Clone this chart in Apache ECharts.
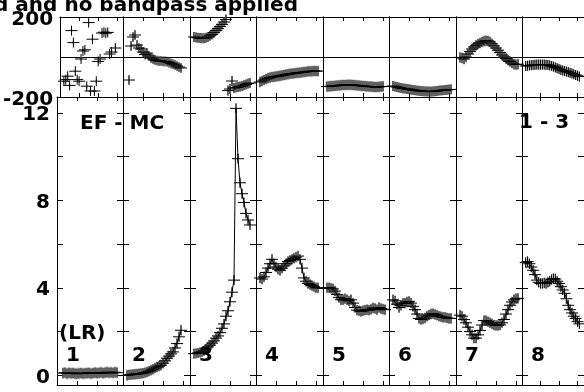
<!DOCTYPE html>
<html>
<head>
<meta charset="utf-8">
<title>EF - MC cross-power spectrum</title>
<script src="https://cdn.jsdelivr.net/npm/echarts@6/dist/echarts.min.js"></script>
<style>
html,body{margin:0;padding:0;background:#fff;}
#main{width:584px;height:392px;}
</style>
</head>
<body>
<div id="main"></div>
<script>
// channel numbers inside every IF panel
var channels = [1,2,3,4,5,6,7,8,9,10,11,12,13,14,15,16,17,18,19,20,21,22,23,24,25,26,27,28,29,30,31,32];
var ifLabels = ['1','2','3','4','5','6','7','8'];

// amplitude per IF (channel 1..32, null = no point)
var amp1 = [null,null,0.10,0.12,0.08,0.11,0.09,0.10,0.08,0.07,0.09,0.10,0.08,0.09,0.10,0.11,0.08,0.10,0.12,0.10,0.11,0.13,0.10,0.12,0.14,0.12,0.13,0.11,0.14,0.12,null,null];
var amp2 = [null,0.00,0.02,0.03,0.04,0.05,0.06,0.07,0.08,0.10,0.12,0.15,0.19,0.23,0.28,0.33,0.38,0.42,0.46,0.55,0.66,0.78,0.88,0.98,1.07,1.25,1.45,1.76,2.06,null,null,null];
var amp3 = [null,0.99,1.00,1.02,1.05,1.07,1.12,1.20,1.30,1.38,1.47,1.57,1.70,1.80,1.95,2.15,2.35,2.70,2.95,3.36,3.80,4.35,12.2,9.9,8.8,8.3,7.9,7.4,7.1,6.87,null,null];
var amp4 = [null,4.45,4.40,4.50,4.70,4.90,5.10,5.30,5.10,4.95,4.85,4.80,4.90,5.00,5.10,5.20,5.25,5.30,5.35,5.40,5.45,5.30,4.90,4.45,4.30,4.20,4.15,4.10,4.05,4.00,4.00,null];
var amp5 = [null,4.00,4.00,3.98,3.95,3.85,3.70,3.55,3.45,3.45,3.50,3.45,3.40,3.45,3.30,3.10,2.98,2.95,2.92,2.95,2.98,3.00,2.98,3.02,3.08,3.05,3.00,3.10,3.05,3.02,3.00,null];
var amp6 = [null,3.45,3.40,3.25,3.10,3.20,3.30,3.30,3.35,3.38,3.30,3.15,3.00,2.80,2.60,2.55,2.58,2.62,2.70,2.75,2.80,2.82,2.78,2.75,2.70,2.68,2.65,2.65,2.62,2.60,2.60,null];
var amp7 = [null,2.75,2.70,2.55,2.40,2.20,2.00,1.85,1.70,1.70,1.85,2.05,2.30,2.50,2.50,2.45,2.40,2.35,2.30,2.28,2.28,2.30,2.40,2.55,2.80,3.00,3.20,3.35,3.45,3.50,3.52,null];
var amp8 = [null,5.15,5.20,5.10,4.95,4.80,4.60,4.35,4.25,4.20,4.20,4.22,4.20,4.25,4.30,4.38,4.42,4.40,4.30,4.20,4.05,3.90,3.75,3.50,3.20,3.00,2.85,2.70,2.60,2.45,2.35,null];

// phase per IF in degrees
var phs1 = [null,-121,-113,-96,-142,132,72,-71,-113,-121,-10,30,36,-146,172,-170,89,-170,-121,-22,-10,120,124,119,123,15,25,null,45,null,null,null];
var phs2 = [null,null,-115,55,100,110,60,45,40,25,12,20,5,-5,-10,-15,-18,-20,-20,-22,-22,-24,-28,-32,-36,-40,-45,-50,-55,null,null,null];
var phs3 = [null,100,98,96,95,94,94,96,100,106,113,122,132,142,152,163,175,188,-168,-160,-120,-155,-152,-150,-148,-145,-141,-137,-133,-130,null,null];
var phs4 = [null,-125,-120,-115,-110,-106,-103,-100,-99,-97,-96,-94,-92,-90,-88,-86,-84,-83,-82,-80,-79,-78,-77,-75,-74,-72,-72,-71,-70,-70,-71,null];
var phs5 = [null,-148,-147,-146,-145,-144,-143,-142,-141,-140,-140,-139,-139,-139,-140,-141,-142,-143,-144,-145,-146,-147,-148,-148,-149,-150,-150,-149,-148,-147,null,null];
var phs6 = [null,-145,-148,-150,-153,-155,-157,-158,-160,-161,-163,-165,-166,-168,-169,-170,-171,-172,-172,-173,-173,-172,-171,-170,-168,-167,-166,-165,-164,-163,-162,null];
var phs7 = [null,-2,-5,-10,0,15,28,40,50,58,65,70,75,79,81,80,75,66,56,45,34,22,10,0,-8,-16,-23,-30,-36,-38,-36,null];
var phs8 = [null,-45,-44,-42,-41,-40,-39,-38,-38,-38,-38,-38,-39,-40,-42,-45,-48,-52,-56,-60,-64,-67,-70,-73,-76,-79,-82,-86,-90,-94,-98,null];

// error bar half sizes per IF
var ampErr = [0.27,0.25,0.22,0.25,0.25,0.25,0.25,0.25];
var phsErr = [10,20,25,28,28,25,28,25];

// axis ticks
var ampTicks = [0,2,4,6,8,10,12];
var ampTickLabels = [0,4,8,12];
var chanTicks = [10,20,30];

var ampSets = [amp1,amp2,amp3,amp4,amp5,amp6,amp7,amp8];
var phsSets = [phs1,phs2,phs3,phs4,phs5,phs6,phs7,phs8];

var FONT = 'DejaVu Sans';
var lefts = [57,123,190,256,323,389,456,522];
var PH_TOP = 17, PH_H = 80, AM_TOP = 97, AM_H = 288;

function toPoints(vals, err) {
    var out = [];
    for (var i = 0; i < channels.length; i++) {
        if (vals[i] != null) out.push([channels[i], vals[i], err]);
    }
    return out;
}

function plusItem(params, api) {
    var p = api.coord([api.value(0), api.value(1)]);
    return {type:'group', children:[
        {type:'line', shape:{x1:p[0]-6, y1:p[1], x2:p[0]+6, y2:p[1]}, style:{stroke:'#000', lineWidth:1}},
        {type:'line', shape:{x1:p[0], y1:p[1]-5, x2:p[0], y2:p[1]+5}, style:{stroke:'#000', lineWidth:1}}
    ]};
}
function errItem(params, api) {
    var x = api.value(0), y = api.value(1), e = api.value(2);
    var a = api.coord([x, y + e]), b = api.coord([x, y - e]);
    return {type:'line', shape:{x1:a[0], y1:a[1], x2:b[0], y2:b[1]}, style:{stroke:'#a0a0a0', lineWidth:1.3}};
}

var grids = [], xAxes = [], yAxes = [], series = [];
var lineStyle = {color:'#000', width:1};
// labels sit a little below their tick in the original plot
var labelStyle = {show:true, color:'#000', margin:7,
    rich:{t:{fontFamily:FONT, fontWeight:'bold', fontSize:20, color:'#000', padding:[5,0,0,0]}}};

function addAxes(gi, width, yBase, showLabels) {
    ['bottom','top'].forEach(function(pos){
        xAxes.push({gridIndex:gi, type:'value', position:pos, min:0, max:width/2,
            axisLine:{show:true, onZero:false, lineStyle:lineStyle},
            axisTick:{show:true, inside:true, length:4, customValues:chanTicks, lineStyle:lineStyle},
            axisLabel:{show:false}, splitLine:{show:false}});
    });
    ['left','right'].forEach(function(pos){
        var ax = Object.assign({gridIndex:gi, type:'value', position:pos}, yBase(pos === 'left' && showLabels));
        yAxes.push(ax);
    });
}

function phaseY(lab) {
    return {min:-200, max:200, interval:200,
        axisLine:{show:true, onZero:false, lineStyle:lineStyle},
        axisTick:{show:true, inside:true, length:6, lineStyle:lineStyle},
        axisLabel:lab ? Object.assign({}, labelStyle, {formatter:function(v){ return v === 0 ? '' : '{t|' + v + '}'; }}) : {show:false},
        splitLine:{show:true, lineStyle:lineStyle}};
}
function ampY(lab) {
    return {min:-0.443, max:12.72,
        axisLine:{show:true, onZero:false, lineStyle:lineStyle},
        axisTick:{show:true, inside:true, length:6, customValues:ampTicks, lineStyle:lineStyle},
        axisLabel:lab ? Object.assign({}, labelStyle, {customValues:ampTickLabels, formatter:function(v){ return '{t|' + v + '}'; }}) : {show:false},
        splitLine:{show:false}};
}

for (var i = 0; i < 8; i++) {
    var w = (i < 7 ? lefts[i+1] : lefts[i] + 67) - lefts[i];
    // phase panel
    var gp = grids.length;
    grids.push({left:lefts[i], top:PH_TOP, width:w, height:PH_H});
    addAxes(gp, w, phaseY, i === 0);
    var pp = toPoints(phsSets[i], phsErr[i]);
    series.push({type:'custom', xAxisIndex:2*gp, yAxisIndex:2*gp, renderItem:errItem, data:pp, z:1});
    series.push({type:'custom', xAxisIndex:2*gp, yAxisIndex:2*gp, renderItem:plusItem, data:pp, z:3});
    // amplitude panel
    var ga = grids.length;
    grids.push({left:lefts[i], top:AM_TOP, width:w, height:AM_H});
    addAxes(ga, w, ampY, i === 0);
    var ap = toPoints(ampSets[i], ampErr[i]);
    series.push({type:'custom', xAxisIndex:2*ga, yAxisIndex:2*ga, renderItem:errItem, data:ap, z:1});
    series.push({type:'line', xAxisIndex:2*ga, yAxisIndex:2*ga, data:ap.map(function(d){ return [d[0], d[1]]; }),
        symbol:'none', lineStyle:{color:'#000', width:1}, z:2});
    series.push({type:'custom', xAxisIndex:2*ga, yAxisIndex:2*ga, renderItem:plusItem, data:ap, z:3});
}

var textFont = 'bold 20px "' + FONT + '"';
function txt(s, x, y, align) {
    return {type:'text', x:x, y:y, z:10,
        style:{text:s, font:textFont, fill:'#000', textAlign:align || 'left', textVerticalAlign:'middle'}};
}
var graphics = [
    txt('d and no bandpass applied', 298, 6, 'right'),
    txt('EF - MC', 80, 124),
    txt('1 - 3', 519, 123),
    txt('(LR)', 59, 334)
];
for (var k = 0; k < 8; k++) graphics.push(txt(ifLabels[k], lefts[k] + 9, 356));

var chart = echarts.init(document.getElementById('main'));
chart.setOption({
    animation:false,
    backgroundColor:'#fff',
    grid:grids,
    xAxis:xAxes,
    yAxis:yAxes,
    series:series,
    graphic:graphics
});
window.onresize = chart.resize;
</script>
</body>
</html>
